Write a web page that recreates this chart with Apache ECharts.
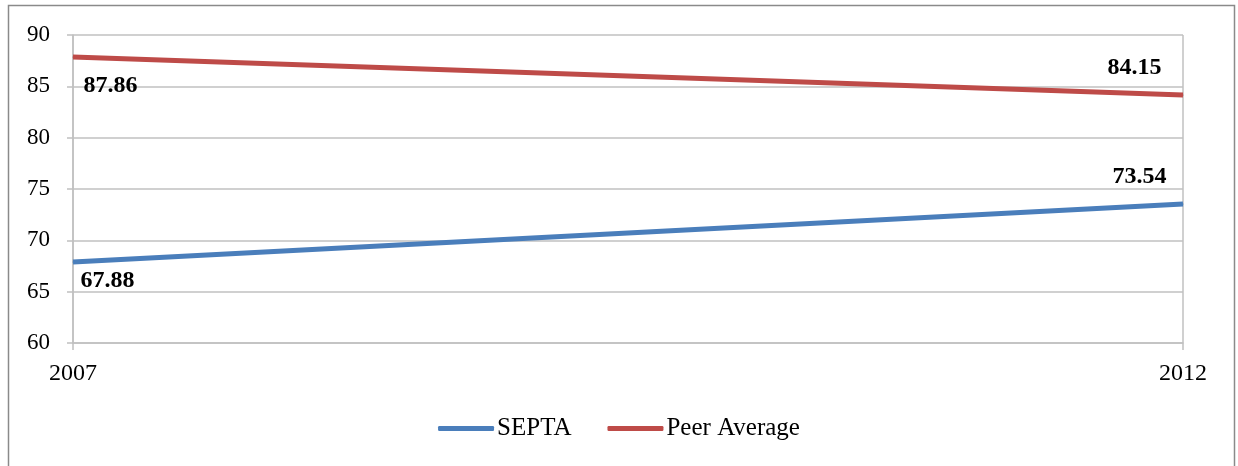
<!DOCTYPE html>
<html>
<head>
<meta charset="utf-8">
<script src="https://cdn.jsdelivr.net/npm/echarts@6/dist/echarts.min.js"></script>
<style>
  html, body { margin: 0; padding: 0; background: #ffffff; }
  #chart { width: 1238px; height: 466px; }
</style>
</head>
<body>
<div id="chart"></div>
<script>
// Years on the category axis
const years = ['2007', '2012'];
// Values per series
const septa = [67.88, 73.54];
const peerAverage = [87.86, 84.15];
// Value axis range
const yMin = 60, yMax = 90, yStep = 5;

const FONT = '"Liberation Serif", "DejaVu Serif", serif';
const BLUE = '#4a7ebb';
const RED = '#be4b48';
const GRID_COLOR = '#c0c0c0';

// Per-point label placement (offsets in px from the point)
function labelled(values, offsets, sides) {
  return values.map((v, i) => ({
    value: v,
    label: {
      show: true,
      position: sides[i],
      distance: 0,
      offset: offsets[i],
      fontFamily: FONT,
      fontSize: 24,
      fontWeight: 'bold',
      color: '#000',
      formatter: (p) => p.value.toFixed(2)
    }
  }));
}

const chart = echarts.init(document.getElementById('chart'), null, { renderer: 'canvas' });
chart.setOption({
  backgroundColor: '#ffffff',
  animation: false,
  graphic: [{
    type: 'rect',
    shape: { x: 8.5, y: 5.5, width: 1226, height: 470 },
    style: { fill: 'none', stroke: '#8a8a8a', lineWidth: 1.5 },
    silent: true
  }],
  grid: { left: 73, right: 55, top: 35, bottom: 123 },
  legend: {
    bottom: 20,
    left: 'center',
    itemWidth: 56,
    itemHeight: 5,
    itemGap: 36,
    icon: 'roundRect',
    textStyle: { fontFamily: FONT, fontSize: 25, color: '#000', padding: [0, 0, 0, -2] },
    data: ['SEPTA', 'Peer Average']
  },
  xAxis: {
    type: 'category',
    data: years,
    boundaryGap: false,
    axisLine: { lineStyle: { color: GRID_COLOR, width: 1.5 } },
    axisTick: { show: true, length: 7, lineStyle: { color: GRID_COLOR, width: 1.5 } },
    axisLabel: { fontFamily: FONT, fontSize: 24, color: '#000', margin: 19 },
    splitLine: { show: true, lineStyle: { color: GRID_COLOR, width: 1.5 } }
  },
  yAxis: {
    type: 'value',
    min: yMin,
    max: yMax,
    interval: yStep,
    axisLine: { show: true, lineStyle: { color: GRID_COLOR, width: 1.5 } },
    axisTick: { show: true, length: 6, lineStyle: { color: GRID_COLOR, width: 1.5 } },
    axisLabel: { fontFamily: FONT, fontSize: 23, color: '#000', margin: 23 },
    splitLine: { show: true, lineStyle: { color: GRID_COLOR, width: 1.5 } }
  },
  series: [
    {
      name: 'SEPTA',
      type: 'line',
      data: labelled(septa, [[7, 19], [-16, -27]], ['right', 'left']),
      symbol: 'circle',
      symbolSize: 1,
      itemStyle: { color: BLUE },
      lineStyle: { color: BLUE, width: 5 }
    },
    {
      name: 'Peer Average',
      type: 'line',
      data: labelled(peerAverage, [[10, 29], [-21, -27]], ['right', 'left']),
      symbol: 'circle',
      symbolSize: 1,
      itemStyle: { color: RED },
      lineStyle: { color: RED, width: 5 }
    }
  ]
});
</script>
</body>
</html>
